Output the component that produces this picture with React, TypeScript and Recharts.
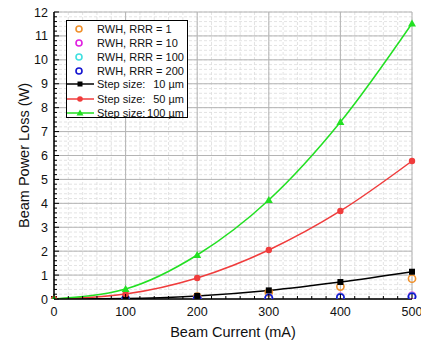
import React from 'react';
import { LineChart, Line, XAxis, YAxis, CartesianGrid } from 'recharts';

const currents = [0, 100, 200, 300, 400, 500];
const step10 = [0, 0.02, 0.13, 0.36, 0.71, 1.14];
const step50 = [0, 0.21, 0.88, 2.05, 3.68, 5.77];
const step100 = [0, 0.42, 1.84, 4.14, 7.4, 11.52];
const rrr1 = [null, 0.02, 0.1, 0.28, 0.52, 0.85];
const rrr10 = [null, 0.01, 0.03, 0.06, 0.09, 0.13];
const rrr100 = [null, 0.01, 0.02, 0.05, 0.07, 0.1];
const rrr200 = [null, 0.0, 0.02, 0.04, 0.06, 0.09];

const majorXTicks = [0, 100, 200, 300, 400, 500];
const majorYTicks = [0, 1, 2, 3, 4, 5, 6, 7, 8, 9, 10, 11, 12];
const X_MINOR_DIV = 5;
const Y_MINOR_DIV = 5;

const xTicks: number[] = [];
for (let i = 0; i < majorXTicks.length - 1; i++) {
  const a = majorXTicks[i];
  const b = majorXTicks[i + 1];
  for (let k = 0; k < X_MINOR_DIV; k++) xTicks.push(a + ((b - a) * k) / X_MINOR_DIV);
}
xTicks.push(majorXTicks[majorXTicks.length - 1]);
const yTicks: number[] = [];
for (let i = 0; i < majorYTicks.length - 1; i++) {
  const a = majorYTicks[i];
  const b = majorYTicks[i + 1];
  for (let k = 0; k < Y_MINOR_DIV; k++) yTicks.push(+(a + ((b - a) * k) / Y_MINOR_DIV).toFixed(4));
}
yTicks.push(majorYTicks[majorYTicks.length - 1]);

const data = currents.map((c, i) => ({
  x: c,
  s10: step10[i],
  s50: step50[i],
  s100: step100[i],
  r1: rrr1[i],
  r10: rrr10[i],
  r100: rrr100[i],
  r200: rrr200[i],
}));

const FONT = 'Liberation Sans, Arial, sans-serif';
const TM = 6;

const isMajor = (v: number, list: number[]) => list.some((m) => Math.abs(m - v) < 1e-6);

const XTick = (props: any) => {
  const { x, y, payload } = props;
  const v = payload.value;
  const major = isMajor(v, majorXTicks);
  const ay = y - TM;
  return (
    <g>
      <line x1={x} x2={x} y1={ay} y2={ay - (major ? 5 : 3)} stroke="#000" strokeWidth={1} />
      {major && (
        <text x={x} y={y} dy={11} textAnchor="middle" fontSize={12.5} fontFamily={FONT} fill="#111">
          {v}
        </text>
      )}
    </g>
  );
};

const YTick = (props: any) => {
  const { x, y, payload } = props;
  const v = payload.value;
  const major = isMajor(v, majorYTicks);
  const ax = x + TM;
  return (
    <g>
      <line x1={ax} x2={ax + (major ? 5 : 3)} y1={y} y2={y} stroke="#000" strokeWidth={1} />
      {major && (
        <text x={x} y={y} dy={4.5} textAnchor="end" fontSize={12.5} fontFamily={FONT} fill="#111">
          {Math.round(v)}
        </text>
      )}
    </g>
  );
};

const Square = (props: any) => {
  const { cx, cy, index } = props;
  if (cx == null || cy == null) return <g key={index} />;
  return <rect key={index} x={cx - 3} y={cy - 3} width={6} height={6} fill="#000" />;
};
const Dot = (props: any) => {
  const { cx, cy, index } = props;
  if (cx == null || cy == null) return <g key={index} />;
  return <circle key={index} cx={cx} cy={cy} r={3.2} fill="#f03c3c" />;
};
const Tri = (props: any) => {
  const { cx, cy, index } = props;
  if (cx == null || cy == null) return <g key={index} />;
  return <path key={index} d={`M${cx},${cy - 4}L${cx + 4},${cy + 3}L${cx - 4},${cy + 3}Z`} fill="#22e022" />;
};
const makeOpen = (color: string) => (props: any) => {
  const { cx, cy, index } = props;
  if (cx == null || cy == null || props.payload == null) return <g key={index} />;
  const v = props.value;
  if (v == null || (Array.isArray(v) && v[1] == null)) return <g key={index} />;
  return <circle key={index} cx={cx} cy={cy} r={3.6} fill="none" stroke={color} strokeWidth={1.6} />;
};

const legendCircles = [
  { label: 'RWH, RRR = 1', color: '#f0902a' },
  { label: 'RWH, RRR = 10', color: '#e020e0' },
  { label: 'RWH, RRR = 100', color: '#40e0e0' },
  { label: 'RWH, RRR = 200', color: '#1414d0' },
];
const legendLines = [
  { num: '10', color: '#000', marker: 'square' },
  { num: '50', color: '#f03c3c', marker: 'circle' },
  { num: '100', color: '#22e022', marker: 'tri' },
];

const rowStyle: React.CSSProperties = {
  position: 'absolute',
  left: 0,
  height: 14,
  width: 120,
  display: 'flex',
  alignItems: 'center',
  whiteSpace: 'nowrap',
};

const LegendBox = () => (
  <div
    style={{
      position: 'absolute',
      left: 66,
      top: 20,
      width: 120,
      height: 96,
      border: '1px solid #000',
      background: '#fff',
      fontFamily: FONT,
      fontSize: 11,
      lineHeight: '14px',
      color: '#111',
      boxSizing: 'content-box',
    }}
  >
    {legendCircles.map((it, i) => (
      <div key={i} style={{ ...rowStyle, top: 1 + i * 14 }}>
        <svg width={30} height={14} style={{ flexShrink: 0 }}>
          <circle cx={12} cy={7} r={3} fill="none" stroke={it.color} strokeWidth={1.6} />
        </svg>
        <span>{it.label}</span>
      </div>
    ))}
    {legendLines.map((it, i) => (
      <div key={i} style={{ ...rowStyle, top: 56 + i * 14.5 }}>
        <svg width={30} height={14} style={{ flexShrink: 0 }}>
          <line x1={0} x2={27} y1={7} y2={7} stroke={it.color} strokeWidth={1.5} />
          {it.marker === 'square' && <rect x={10.5} y={4.5} width={5} height={5} fill={it.color} />}
          {it.marker === 'circle' && <circle cx={13} cy={7} r={2.8} fill={it.color} />}
          {it.marker === 'tri' && <path d="M13,3.5L16.5,9.5L9.5,9.5Z" fill={it.color} />}
        </svg>
        <span>Step size:</span>
        <span style={{ marginLeft: 'auto', marginRight: 3 }}>{it.num} µm</span>
      </div>
    ))}
  </div>
);

const YLabel = (props: any) => {
  const { viewBox } = props;
  const cx = 24;
  const cy = viewBox.y + viewBox.height / 2;
  return (
    <text x={cx} y={cy} transform={`rotate(-90 ${cx} ${cy})`} textAnchor="middle" dominantBaseline="central" fontSize={14.5} fontFamily={FONT} fill="#111">
      Beam Power Loss (W)
    </text>
  );
};

const XLabel = (props: any) => {
  const { viewBox } = props;
  return (
    <text x={viewBox.x + viewBox.width / 2} y={337} textAnchor="middle" fontSize={14.5} fontFamily={FONT} fill="#111">
      Beam Current (mA)
    </text>
  );
};

export default function App() {
  return (
    <div style={{ position: 'absolute', left: 0, top: 0, width: 421, height: 345, background: '#fff' }}>
      <LineChart width={421} height={345} data={data} margin={{ top: 12, right: 9, left: 0, bottom: 0 }}>
        <CartesianGrid stroke="#dcdcdc" strokeDasharray="3 2" strokeWidth={0.8} />
        <CartesianGrid stroke="#b4b4b4" strokeWidth={1} horizontalValues={majorYTicks} verticalValues={majorXTicks} />
        <XAxis
          dataKey="x"
          type="number"
          domain={[0, 500]}
          ticks={xTicks}
          interval={0}
          height={46}
          tickSize={0}
          tickMargin={TM}
          tickLine={false}
          tick={<XTick />}
          axisLine={{ stroke: '#000', strokeWidth: 1.5 }}
          label={<XLabel />}
        />
        <XAxis xAxisId="top" orientation="top" type="number" domain={[0, 500]} height={0} tick={false} tickLine={false} axisLine={{ stroke: '#000', strokeWidth: 1.5 }} />
        <YAxis
          type="number"
          domain={[0, 12]}
          ticks={yTicks}
          interval={0}
          width={54}
          tickSize={0}
          tickMargin={TM}
          tickLine={false}
          tick={<YTick />}
          allowDataOverflow
          axisLine={{ stroke: '#000', strokeWidth: 1.5 }}
          label={<YLabel />}
        />
        <YAxis yAxisId="right" orientation="right" type="number" domain={[0, 12]} width={0} tick={false} tickLine={false} axisLine={{ stroke: '#000', strokeWidth: 1.5 }} />
        <Line dataKey="r1" stroke="none" isAnimationActive={false} dot={makeOpen('#f0902a')} activeDot={false} />
        <Line dataKey="r10" stroke="none" isAnimationActive={false} dot={makeOpen('#e020e0')} activeDot={false} />
        <Line dataKey="r100" stroke="none" isAnimationActive={false} dot={makeOpen('#40e0e0')} activeDot={false} />
        <Line dataKey="r200" stroke="none" isAnimationActive={false} dot={makeOpen('#1414d0')} activeDot={false} />
        <Line dataKey="s10" type="monotone" stroke="#000" strokeWidth={1.5} isAnimationActive={false} dot={Square} activeDot={false} />
        <Line dataKey="s50" type="monotone" stroke="#f03c3c" strokeWidth={1.5} isAnimationActive={false} dot={Dot} activeDot={false} />
        <Line dataKey="s100" type="monotone" stroke="#22e022" strokeWidth={1.5} isAnimationActive={false} dot={Tri} activeDot={false} />
      </LineChart>
      <LegendBox />
    </div>
  );
}
